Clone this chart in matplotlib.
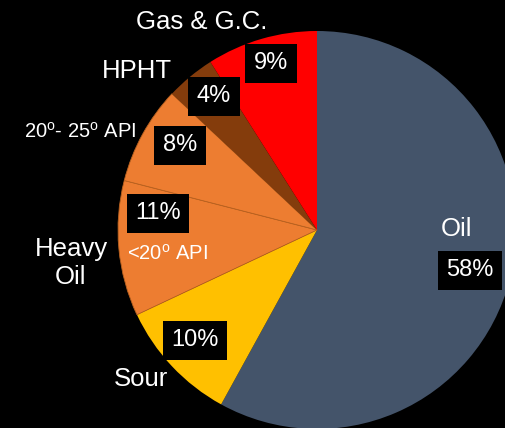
import matplotlib.pyplot as plt

plt.rcParams['font.family'] = ['Liberation Sans', 'DejaVu Sans']
plt.rcParams['mathtext.fontset'] = 'custom'
plt.rcParams['mathtext.rm'] = 'Liberation Sans'

# slices, clockwise from 12 o'clock
shares = [58, 10, 11, 8, 4, 9]
pct_labels = ['58%', '10%', '11%', '8%', '4%', '9%']
colors = ['#44546A', '#FFC000', '#ED7D31', '#ED7D31', '#843C0C', '#FF0000']

W, H = 506, 428
fig = plt.figure(figsize=(W / 100, H / 100), dpi=100, facecolor='black')
ax = fig.add_axes([0, 0, 1, 1])
ax.set_facecolor('black')

cx, cy, r = 317, H - 230, 199
wedges, _ = ax.pie(shares, colors=colors, startangle=90, counterclock=False,
                   center=(cx, cy), radius=r, frame=True,
                   wedgeprops=dict(linewidth=0))
for w in wedges[2:4]:
    w.set_edgecolor('#B8611F')
    w.set_linewidth(0.6)
ax.set_xlim(0, W)
ax.set_ylim(0, H)
ax.set_aspect('equal')
ax.axis('off')

# percentage boxes (pixel positions from top-left)
box_pos = [(470, 270), (195, 340), (158, 213), (180, 145), (214, 96), (271, 63)]
for txt, (x, y) in zip(pct_labels, box_pos):
    ax.text(x, H - y, txt, color='white', fontsize=17, ha='center', va='center',
            bbox=dict(boxstyle='square,pad=0.36', fc='black', ec='none'))

# category names
names = [('Oil', 457, 229, 18.5), ('Sour', 141, 379, 18.5),
         ('Heavy\nOil', 71, 263, 18.5), (r'<20$^\mathrm{o}$ API', 167, 254, 14.5),
         (r'20$^\mathrm{o}$- 25$^\mathrm{o}$ API', 80, 132, 14.5),
         ('HPHT', 137, 71, 18.5), ('Gas & G.C.', 202, 22, 18.5)]
for txt, x, y, fs in names:
    ax.text(x, H - y, txt, color='white', fontsize=fs, ha='center', va='center',
            linespacing=1.25)

fig.savefig('out.png', dpi=100, facecolor='black')
